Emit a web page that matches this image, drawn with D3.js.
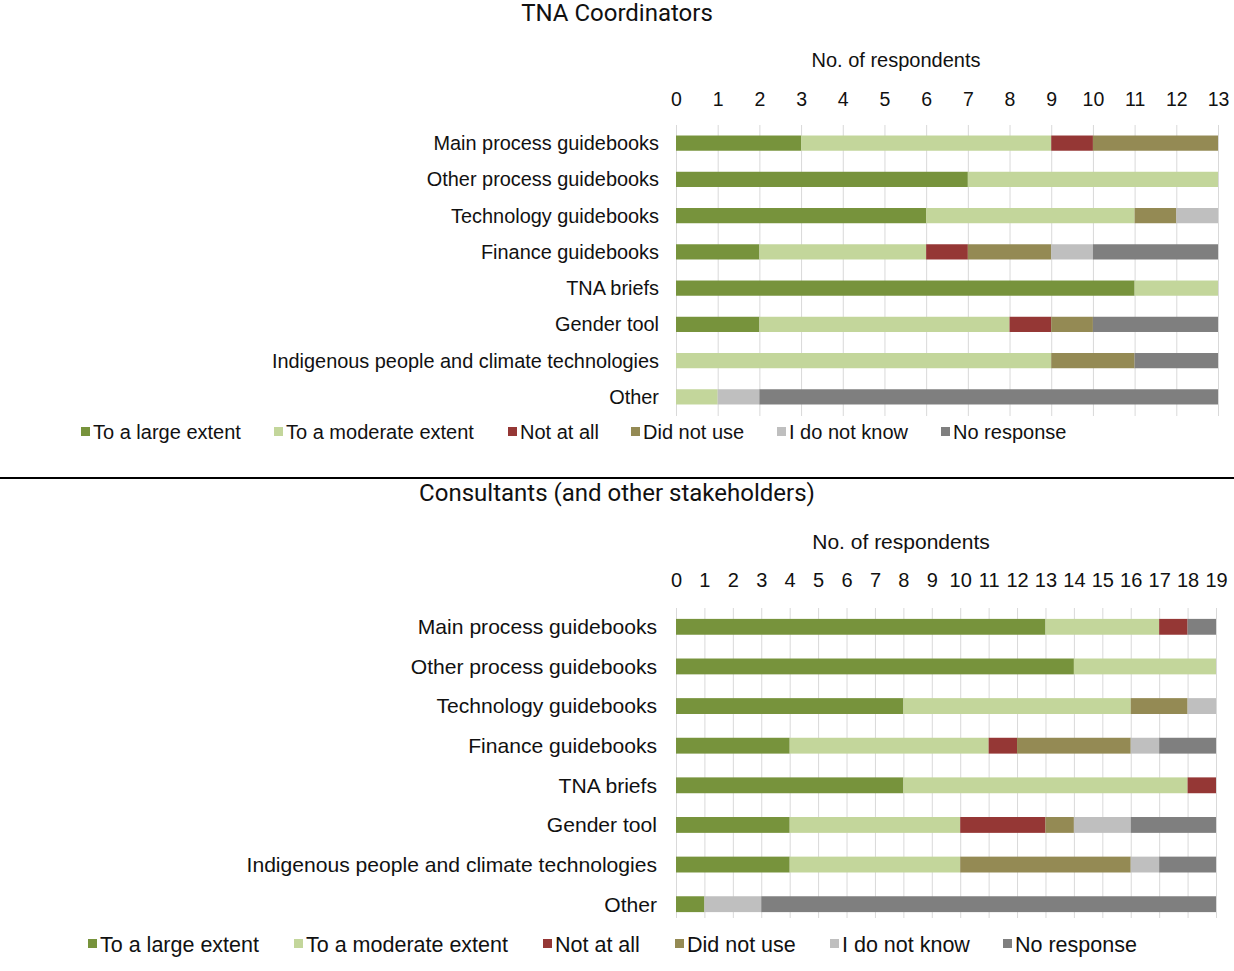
<!DOCTYPE html>
<html>
<head>
<meta charset="utf-8">
<script src="https://cdn.jsdelivr.net/npm/d3@7"></script>
<style>
  html, body { margin: 0; padding: 0; background: #fff; }
  svg { display: block; }
</style>
</head>
<body>
<svg id="chart" width="1234" height="971"></svg>
<script>
// Guidance materials rated by respondents
const categories = [
  "Main process guidebooks",
  "Other process guidebooks",
  "Technology guidebooks",
  "Finance guidebooks",
  "TNA briefs",
  "Gender tool",
  "Indigenous people and climate technologies",
  "Other"
];

const seriesNames = [
  "To a large extent",
  "To a moderate extent",
  "Not at all",
  "Did not use",
  "I do not know",
  "No response"
];

const seriesColors = ["#77933C", "#C3D69B", "#953735", "#948A54", "#BFBFBF", "#7F7F7F"];

// TNA Coordinators: one row per category, one value per response option
const coordLarge    = [3, 7, 6, 2, 11, 2, 0, 0];
const coordModerate = [6, 6, 5, 4, 2, 6, 9, 1];
const coordNotAtAll = [1, 0, 0, 1, 0, 1, 0, 0];
const coordDidNot   = [3, 0, 1, 2, 0, 1, 2, 0];
const coordDontKnow = [0, 0, 1, 1, 0, 0, 0, 1];
const coordNoResp   = [0, 0, 0, 3, 0, 3, 2, 11];
const coordTicks    = d3.range(0, 14);

// Consultants (and other stakeholders)
const consLarge    = [13, 14, 8, 4, 8, 4, 4, 1];
const consModerate = [4, 5, 8, 7, 10, 6, 6, 0];
const consNotAtAll = [1, 0, 0, 1, 1, 3, 0, 0];
const consDidNot   = [0, 0, 2, 4, 0, 1, 6, 0];
const consDontKnow = [0, 0, 1, 1, 0, 2, 1, 2];
const consNoResp   = [1, 0, 0, 2, 0, 3, 2, 16];
const consTicks    = d3.range(0, 20);

const svg = d3.select("#chart");
const labelFont = "'Liberation Sans', Arial, sans-serif";
const titleFont = "Roboto, 'Liberation Sans', sans-serif";

function buildRows(series) {
  return categories.map((c, i) => {
    const row = { category: c };
    seriesNames.forEach((s, k) => { row[s] = series[k][i]; });
    return row;
  });
}

function drawPanel(opt) {
  const rows = buildRows(opt.series);
  const stack = d3.stack().keys(seriesNames)(rows);

  const x = d3.scaleLinear().domain([0, opt.max]).range([opt.x0, opt.x1]);
  const y = d3.scaleBand().domain(categories)
    .range([opt.yTop, opt.yBottom]).paddingInner(opt.pad).paddingOuter(opt.pad / 2);

  const g = svg.append("g");

  // title
  g.append("text")
    .attr("x", 617).attr("y", opt.titleY)
    .attr("text-anchor", "middle")
    .style("font-family", titleFont).style("font-size", "24px").style("fill", "#111")
    .text(opt.title);

  // axis title
  g.append("text")
    .attr("x", opt.axisTitleX).attr("y", opt.axisTitleY)
    .attr("text-anchor", "middle")
    .style("font-family", labelFont).style("font-size", opt.axisTitleSize).style("fill", "#111")
    .text("No. of respondents");

  // vertical gridlines
  g.append("g").selectAll("line").data(opt.ticks).join("line")
    .attr("x1", d => x(d) + 0.5).attr("x2", d => x(d) + 0.5)
    .attr("y1", opt.gridTop).attr("y2", opt.gridBottom)
    .attr("stroke", "#D9D9D9").attr("stroke-width", 1);

  // top axis tick labels
  const axis = d3.axisTop(x).tickValues(opt.ticks).tickSize(0).tickPadding(0).tickFormat(d3.format("d"));
  const ax = g.append("g").attr("transform", `translate(0,${opt.tickY})`).call(axis);
  ax.select(".domain").remove();
  ax.selectAll("text")
    .style("font-family", labelFont).style("font-size", opt.tickSize).style("fill", "#111");

  // stacked bars
  g.append("g").selectAll("g").data(stack).join("g")
    .attr("fill", (d, i) => seriesColors[i])
    .selectAll("rect").data(d => d.filter(s => s[1] > s[0])).join("rect")
    .attr("x", d => x(d[0]))
    .attr("y", d => y(d.data.category))
    .attr("width", d => x(d[1]) - x(d[0]))
    .attr("height", y.bandwidth());

  // category labels
  g.append("g").selectAll("text").data(categories).join("text")
    .attr("x", opt.labelX)
    .attr("y", d => y(d) + y.bandwidth() / 2)
    .attr("dy", "0.35em")
    .attr("text-anchor", "end")
    .style("font-family", labelFont).style("font-size", opt.labelSize).style("fill", "#111")
    .text(d => d);

  // legend
  const lg = g.append("g").selectAll("g").data(seriesNames).join("g")
    .attr("transform", (d, i) => `translate(${opt.legendX[i]},${opt.legendY})`);
  lg.append("rect").attr("x", 0).attr("y", -5).attr("width", 9).attr("height", 9)
    .attr("fill", (d, i) => seriesColors[i]);
  lg.append("text").attr("x", 12).attr("y", 0).attr("dy", "0.35em")
    .style("font-family", labelFont).style("font-size", opt.legendSize).style("fill", "#111")
    .text(d => d);
}

drawPanel({
  title: "TNA Coordinators",
  titleY: 21,
  axisTitleX: 896, axisTitleY: 67, axisTitleSize: "20px",
  tickY: 106, tickSize: "19.5px",
  series: [coordLarge, coordModerate, coordNotAtAll, coordDidNot, coordDontKnow, coordNoResp],
  max: 13, ticks: coordTicks,
  x0: 676, x1: 1218,
  yTop: 125, yBottom: 415, pad: 0.58,
  gridTop: 125, gridBottom: 416,
  labelX: 659, labelSize: "19.9px", legendSize: "20px",
  legendX: [81, 274, 508, 631, 777, 941], legendY: 432
});

// divider between the two panels
svg.append("line")
  .attr("x1", 0).attr("x2", 1234).attr("y1", 478).attr("y2", 478)
  .attr("stroke", "#000").attr("stroke-width", 2);

drawPanel({
  title: "Consultants (and other stakeholders)",
  titleY: 501,
  axisTitleX: 901, axisTitleY: 549, axisTitleSize: "21px",
  tickY: 587, tickSize: "20px",
  series: [consLarge, consModerate, consNotAtAll, consDidNot, consDontKnow, consNoResp],
  max: 19, ticks: consTicks,
  x0: 676, x1: 1216,
  yTop: 607, yBottom: 924, pad: 0.6,
  gridTop: 608, gridBottom: 918,
  labelX: 657, labelSize: "21.1px", legendSize: "21.5px",
  legendX: [88, 294, 543, 675, 830, 1003], legendY: 944
});
</script>
</body>
</html>
